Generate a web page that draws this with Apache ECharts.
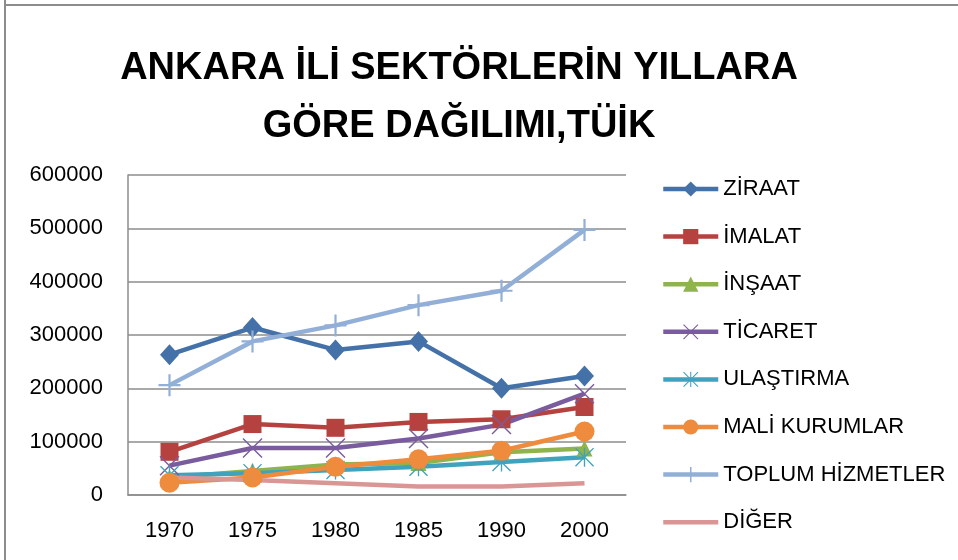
<!DOCTYPE html>
<html>
<head>
<meta charset="utf-8">
<script src="https://cdn.jsdelivr.net/npm/echarts@6/dist/echarts.min.js"></script>
<style>
  html, body { margin: 0; padding: 0; background: #fff; }
  #chart { width: 958px; height: 560px; }
</style>
</head>
<body>
<div id="chart"></div>
<script>
var years = ['1970', '1975', '1980', '1985', '1990', '2000'];
var yTicks = [0, 100000, 200000, 300000, 400000, 500000, 600000];

var ziraat = [263000, 314000, 272000, 288000, 200000, 223000];
var imalat = [81000, 133000, 126000, 137000, 142000, 165000];
var insaat = [33000, 45000, 57000, 60000, 80000, 87000];
var ticaret = [55000, 88000, 88000, 106000, 132000, 190000];
var ulastirma = [37000, 41000, 47000, 53000, 62000, 71000];
var maliKurumlar = [23000, 33000, 53000, 67000, 83000, 119000];
var toplumHizmetler = [206000, 288000, 318000, 356000, 383000, 497000];
var diger = [33000, 28000, 22000, 16000, 16000, 22000];

var crossPath = 'path://M0,1L1,0L10,9L19,0L20,1L11,10L20,19L19,20L10,11L1,20L0,19L9,10Z';
var starPath = 'path://M0,1L1,0L10,9L19,0L20,1L11,10L20,19L19,20L10,11L1,20L0,19L9,10Z M9.3,0L10.7,0L10.7,20L9.3,20Z';
var plusPath = 'path://M9,0L11,0L11,9L20,9L20,11L11,11L11,20L9,20L9,11L0,11L0,9L9,9Z';

function lineSeries(name, data, color, symbol, size, showSym) {
    return {
        name: name,
        type: 'line',
        data: data,
        symbol: symbol,
        symbolSize: size,
        showSymbol: showSym,
        lineStyle: { color: color, width: 4.5 },
        itemStyle: { color: color },
        emphasis: { disabled: true },
        animation: false
    };
}

var chart = echarts.init(document.getElementById('chart'));
var option = {
    backgroundColor: '#fff',
    title: {
        text: 'ANKARA İLİ SEKTÖRLERİN YILLARA\nGÖRE DAĞILIMI,TÜİK',
        left: 454,
        top: 35,
        textAlign: 'center',
        textStyle: {
            fontFamily: '"Liberation Sans", Arial, sans-serif',
            fontSize: 38,
            fontWeight: 'bold',
            lineHeight: 58,
            color: '#000'
        }
    },
    graphic: [
        { type: 'line', shape: { x1: 5, y1: 0, x2: 5, y2: 560 }, style: { stroke: '#8c8c8c', lineWidth: 2 } },
        { type: 'line', shape: { x1: 5, y1: 5, x2: 958, y2: 5 }, style: { stroke: '#8c8c8c', lineWidth: 2 } }
    ],
    legend: {
        orient: 'vertical',
        left: 656,
        top: 173,
        itemWidth: 55,
        itemHeight: 19,
        itemGap: 25.6,
        lineStyle: { width: 4.5 },
        textStyle: {
            fontFamily: '"Liberation Sans", Arial, sans-serif',
            fontSize: 22,
            lineHeight: 22,
            color: '#000'
        },
        data: ['ZİRAAT', 'İMALAT', 'İNŞAAT', 'TİCARET', 'ULAŞTIRMA', 'MALİ KURUMLAR', 'TOPLUM HİZMETLER',
            { name: 'DİĞER', itemStyle: { color: 'rgba(0,0,0,0)' } }]
    },
    grid: { left: 128, top: 175, right: 332, bottom: 65 },
    xAxis: {
        type: 'category',
        data: years,
        boundaryGap: true,
        axisLine: { show: true, lineStyle: { color: '#8c8c8c', width: 1.5 } },
        axisTick: { show: false },
        axisLabel: {
            margin: 25,
            fontFamily: '"Liberation Sans", Arial, sans-serif',
            fontSize: 22,
            color: '#000'
        }
    },
    yAxis: {
        type: 'value',
        min: yTicks[0],
        max: yTicks[yTicks.length - 1],
        interval: yTicks[1] - yTicks[0],
        axisLine: { show: true, lineStyle: { color: '#8c8c8c', width: 1.5 } },
        axisTick: { show: false },
        splitLine: { show: true, lineStyle: { color: '#8c8c8c', width: 1.5 } },
        axisLabel: {
            margin: 25,
            formatter: function (v) { return String(v); },
            fontFamily: '"Liberation Sans", Arial, sans-serif',
            fontSize: 22,
            color: '#000'
        }
    },
    series: [
        lineSeries('ZİRAAT', ziraat, '#4472A8', 'diamond', [19, 21], true),
        lineSeries('İMALAT', imalat, '#B5423F', 'rect', 18, true),
        lineSeries('İNŞAAT', insaat, '#8FB34D', 'triangle', 16, true),
        lineSeries('TİCARET', ticaret, '#7A5C9E', crossPath, 20, true),
        lineSeries('ULAŞTIRMA', ulastirma, '#3FA3BE', starPath, 19, true),
        lineSeries('MALİ KURUMLAR', maliKurumlar, '#EE8B3C', 'circle', 20, true),
        lineSeries('TOPLUM HİZMETLER', toplumHizmetler, '#92AFD8', plusPath, 22, true),
        lineSeries('DİĞER', diger, '#D99694', 'circle', 0, false)
    ]
};
chart.setOption(option);
</script>
</body>
</html>
